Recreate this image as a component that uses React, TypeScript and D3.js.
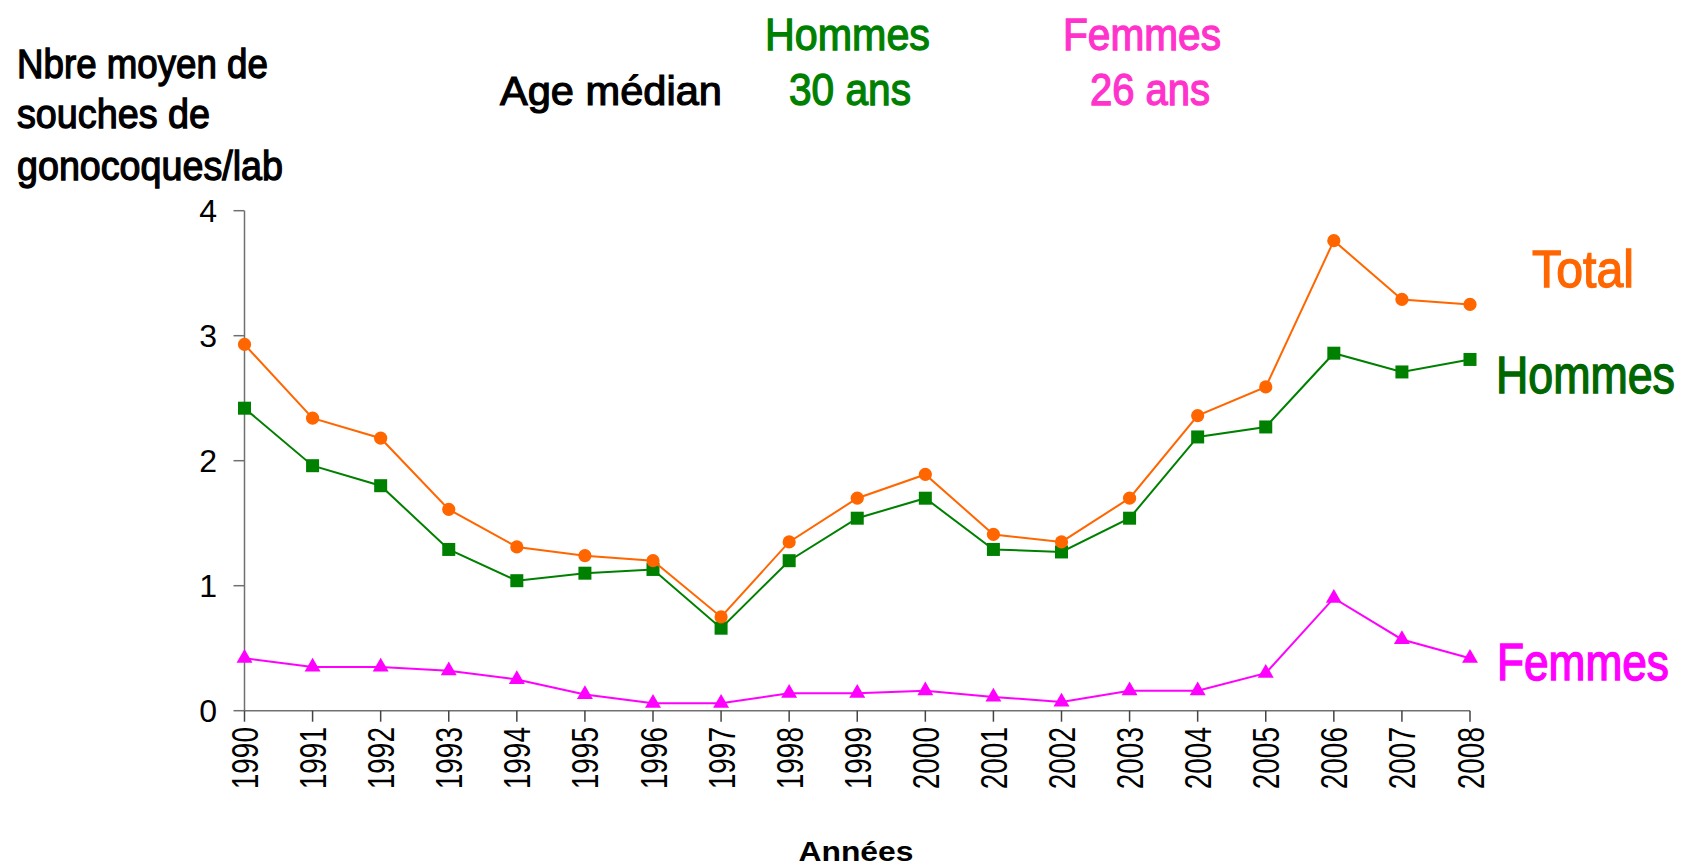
import React from 'react';
import * as d3 from 'd3';

const years = [1990, 1991, 1992, 1993, 1994, 1995, 1996, 1997, 1998, 1999, 2000, 2001, 2002, 2003, 2004, 2005, 2006, 2007, 2008];
const total = [2.93, 2.34, 2.18, 1.61, 1.31, 1.24, 1.2, 0.75, 1.35, 1.7, 1.89, 1.41, 1.35, 1.7, 2.36, 2.59, 3.76, 3.29, 3.25];
const hommes = [2.42, 1.96, 1.8, 1.29, 1.04, 1.1, 1.13, 0.66, 1.2, 1.54, 1.7, 1.29, 1.27, 1.54, 2.19, 2.27, 2.86, 2.71, 2.81];
const femmes = [0.42, 0.35, 0.35, 0.32, 0.25, 0.13, 0.06, 0.06, 0.14, 0.14, 0.16, 0.11, 0.07, 0.16, 0.16, 0.3, 0.9, 0.57, 0.42];
const yTicks = [0, 1, 2, 3, 4];
const yTitle = ['Nbre moyen de', 'souches de', 'gonocoques/lab'];

const C_TOTAL = '#FF6600';
const C_HOM = '#008000';
const C_HOM_LBL = '#006600';
const C_FEM = '#FF00FF';
const C_FEM_TOP = '#FF33CC';

const SANS = '"Liberation Sans", Arial, sans-serif';

let ctx: CanvasRenderingContext2D | null = null;
function measure(text: string, size: number, weight = 'normal') {
  if (!ctx) ctx = document.createElement('canvas').getContext('2d');
  if (!ctx) return text.length * size * 0.55;
  ctx.font = `${weight} ${size}px "Liberation Sans", Arial, sans-serif`;
  return ctx.measureText(text).width;
}

function Txt({ x, y, w, size, color = '#000', children, weight = 'normal', sw = 1.2 }: any) {
  const nat = measure(children, size, weight);
  const sx = w / nat;
  return (
    <text transform={`translate(${x},${y}) scale(${sx},1)`} fontSize={size} fill={color} fontFamily={SANS}
      fontWeight={weight} stroke={color} strokeWidth={sw / sx}>{children}</text>
  );
}

export default function App() {
  const x = d3.scalePoint<number>().domain(years).range([244.5, 1470]);
  const y = d3.scaleLinear().domain([0, 4]).range([710.7, 210.7]);
  const lineGen = d3.line<number>().x((_, i) => x(years[i])!).y((d) => y(d));
  const tri = d3.symbol().type(d3.symbolTriangle).size(110)()!;
  const axisColor = '#707070';

  return (
    <svg width={1684} height={868} style={{ position: 'absolute', left: 0, top: 0, background: '#fff' }}>
      {/* y title */}
      <Txt x={17} y={78} w={251} size={40}>{yTitle[0]}</Txt>
      <Txt x={17} y={128} w={193} size={40}>{yTitle[1]}</Txt>
      <Txt x={17} y={180} w={266} size={40}>{yTitle[2]}</Txt>

      {/* header */}
      <Txt x={500} y={105} w={222} size={41}>Age médian</Txt>
      <Txt x={765} y={50} w={165} size={44} color={C_HOM}>Hommes</Txt>
      <Txt x={789} y={105} w={122} size={44} color={C_HOM}>30 ans</Txt>
      <Txt x={1063} y={50} w={158} size={44} color={C_FEM_TOP}>Femmes</Txt>
      <Txt x={1090} y={105} w={120} size={44} color={C_FEM_TOP}>26 ans</Txt>

      {/* right labels */}
      <Txt x={1532} y={287} w={102} size={52} color={C_TOTAL}>Total</Txt>
      <Txt x={1496} y={393} w={179} size={51} color={C_HOM_LBL}>Hommes</Txt>
      <Txt x={1497} y={680} w={172} size={51} color={C_FEM}>Femmes</Txt>

      {/* axes */}
      <line x1={x(1990)} x2={x(1990)} y1={y(4)} y2={y(0)} stroke={axisColor} strokeWidth={1.5} />
      <line x1={x(1990)} x2={x(2008)} y1={y(0)} y2={y(0)} stroke={axisColor} strokeWidth={1.5} />
      {yTicks.map((t) => (
        <g key={t}>
          <line x1={x(1990)! - 11} x2={x(1990)} y1={y(t)} y2={y(t)} stroke={axisColor} strokeWidth={1.5} />
          <text x={217} y={y(t) + 11.5} textAnchor="end" fontSize={32} fontFamily={SANS} fill="#000">{t}</text>
        </g>
      ))}
      {years.map((yr) => (
        <g key={yr}>
          <line x1={x(yr)} x2={x(yr)} y1={y(0)} y2={y(0) + 11} stroke="#444" strokeWidth={1.5} />
          <text transform={`translate(${x(yr)! + 13.5},727) rotate(-90) scale(1,1.35)`} textAnchor="end" fontSize={28}
            fontFamily={SANS} fill="#000">{yr}</text>
        </g>
      ))}
      <text x={856} y={861} textAnchor="middle" fontSize={27} fontWeight="bold" fontFamily={SANS}
        textLength={115} lengthAdjust="spacingAndGlyphs">Années</text>

      {/* series */}
      <path d={lineGen(femmes)!} fill="none" stroke={C_FEM} strokeWidth={2} />
      {femmes.map((v, i) => (
        <path key={i} d={tri} transform={`translate(${x(years[i])},${y(v)})`} fill={C_FEM} />
      ))}
      <path d={lineGen(hommes)!} fill="none" stroke={C_HOM} strokeWidth={2} />
      {hommes.map((v, i) => (
        <rect key={i} x={x(years[i])! - 6.5} y={y(v) - 6.5} width={13} height={13} fill={C_HOM} />
      ))}
      <path d={lineGen(total)!} fill="none" stroke={C_TOTAL} strokeWidth={2} />
      {total.map((v, i) => (
        <circle key={i} cx={x(years[i])} cy={y(v)} r={6.6} fill={C_TOTAL} />
      ))}
    </svg>
  );
}
